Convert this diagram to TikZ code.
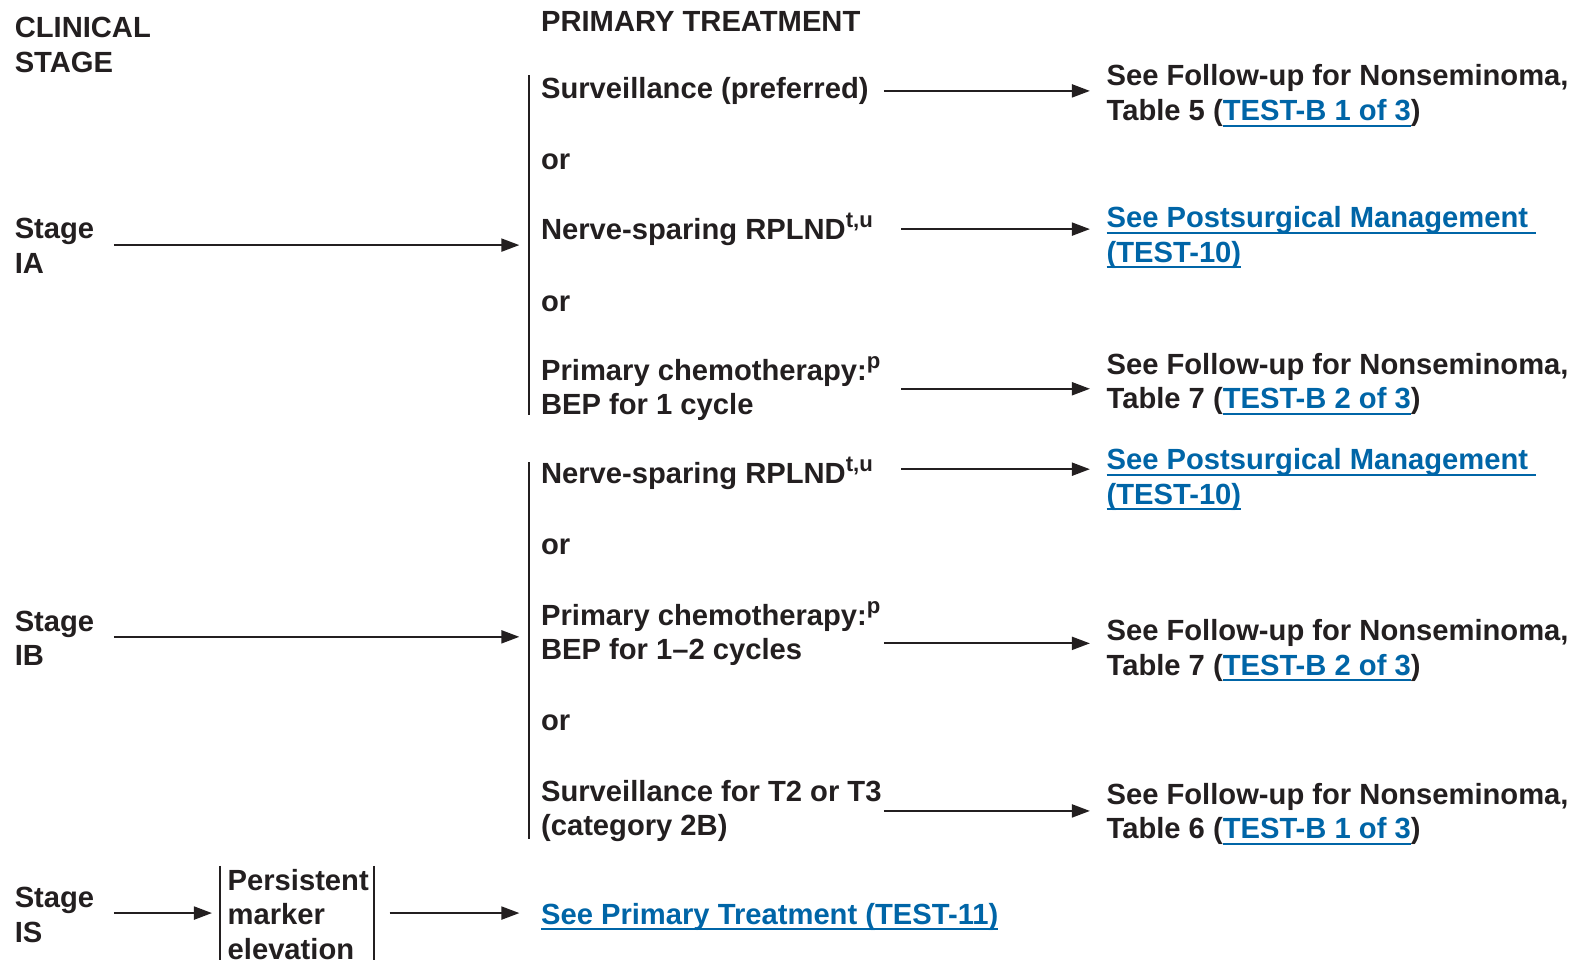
\documentclass[tikz,border=0pt]{standalone}
\usepackage{fontspec}
\setmainfont{Liberation Sans}
\usetikzlibrary{arrows.meta,positioning}
\definecolor{txtgray}{RGB}{35,31,32}
\definecolor{linkblue}{RGB}{0,101,167}
\newsavebox{\lnkbox}
\newcommand{\lnk}[1]{\textcolor{linkblue}{\sbox{\lnkbox}{#1}\rlap{\rule[-1.75pt]{\wd\lnkbox}{0.55pt}}\usebox{\lnkbox}}}
\newcommand{\sups}[1]{\raisebox{0.4em}{\fontsize{6.3}{6.3}\selectfont #1}}

\begin{document}
\begin{tikzpicture}[x=0.10045mm,y=-0.10045mm,
  txt/.style={anchor=base west,inner sep=0pt,align=left,text=txtgray,
    font=\fontsize{8.3}{9.85}\selectfont\bfseries},
  arr/.style={draw=txtgray,line width=0.2mm,-{Triangle[length=1.8mm,width=1.3mm]}},
  bar/.style={draw=txtgray,line width=0.2mm}]
  \useasboundingbox (0,0) rectangle (1568,955);

  % multi-line nodes sit on the baseline of their last line
  \node[txt] (hstage) at (14,72) {CLINICAL\\STAGE};
  \node[txt] (htreat) at (538,31) {PRIMARY TREATMENT};

  % arrow columns
  \coordinate (colA) at (880,0);
  \coordinate (colB) at (897,0);

  % stage IA
  \node[txt] (stIA) at (14,272) {Stage\\IA};
  \node[txt] (survIA) at (538,98) {Surveillance (preferred)};
  \node[txt] (orIA1) at (538,169) {or};
  \node[txt] (rpIA) at (538,238) {Nerve-sparing RPLND\sups{t,u}};
  \node[txt] (orIA2) at (538,310) {or};
  \node[txt] (chIA) at (538,413) {Primary chemotherapy:\sups{p}\\BEP for 1 cycle};

  \node[txt] (fuIA1) at (1101,120) {See Follow-up for Nonseminoma,\\Table 5 (\lnk{TEST-B 1 of 3})};
  \node[txt] (psIA) at (1101,261) {\lnk{See Postsurgical Management~}\\\lnk{(TEST-10)}};
  \node[txt] (fuIA3) at (1101,407) {See Follow-up for Nonseminoma,\\Table 7 (\lnk{TEST-B 2 of 3})};

  \coordinate (barIAt) at (527,75);
  \coordinate (barIAb) at (527,413);
  \coordinate (inIA) at (527,244);
  \draw[bar] (barIAt) -- (barIAb);

  \draw[arr,shorten <=1.9mm,shorten >=1mm] (stIA.east |- inIA) -- (inIA);
  \draw[arr,shorten >=1.6mm] (survIA.east -| colA) -- (survIA.east -| fuIA1.west);
  \draw[arr,shorten >=1.6mm] (rpIA.east -| colB) -- (rpIA.east -| psIA.west);
  \draw[arr,shorten >=1.6mm] (chIA.east -| colB) -- (chIA.east -| fuIA3.west);

  % stage IB
  \node[txt] (stIB) at (14,663) {Stage\\IB};
  \node[txt] (rpIB) at (538,481) {Nerve-sparing RPLND\sups{t,u}};
  \node[txt] (orIB1) at (538,552) {or};
  \node[txt] (chIB) at (538,657) {Primary chemotherapy:\sups{p}\\BEP for 1--2 cycles};
  \node[txt] (orIB2) at (538,727) {or};
  \node[txt] (svIB) at (538,832) {Surveillance for T2 or T3\\(category 2B)};

  \node[txt] (psIB) at (1101,502) {\lnk{See Postsurgical Management~}\\\lnk{(TEST-10)}};
  \node[txt] (fuIB2) at (1101,672) {See Follow-up for Nonseminoma,\\Table 7 (\lnk{TEST-B 2 of 3})};
  \node[txt] (fuIB3) at (1101,835) {See Follow-up for Nonseminoma,\\Table 6 (\lnk{TEST-B 1 of 3})};

  \coordinate (barIBt) at (527,460);
  \coordinate (barIBb) at (527,835);
  \coordinate (inIB) at (527,634);
  \draw[bar] (barIBt) -- (barIBb);

  \draw[arr,shorten <=1.9mm,shorten >=1mm] (stIB.east |- inIB) -- (inIB);
  \draw[arr,shorten >=1.6mm] ([yshift=0.4mm]rpIB.east -| colB) -- ([yshift=0.4mm]rpIB.east -| psIB.west);
  \draw[arr,shorten >=1.6mm] ([yshift=-0.95mm]chIB.east -| colA) -- ([yshift=-0.95mm]chIB.east -| fuIB2.west);
  \draw[arr,shorten >=1.6mm] (svIB.east -| colA) -- (svIB.east -| fuIB3.west);

  % stage IS
  \node[txt] (stIS) at (14,938) {Stage\\IS};
  \node[txt] (pmIS) at (226,955) {Persistent\\marker\\elevation};
  \node[txt] (ptIS) at (538,920) {\lnk{See Primary Treatment (TEST-11)}};

  \coordinate (inIS) at (219,909);
  \coordinate (outIS) at (372,909);
  \draw[bar] (219,862) -- (219,970)
   (372,862) -- (372,970);

  \draw[arr,shorten <=1.9mm,shorten >=0.8mm] (stIS.east |- inIS) -- (inIS);
  \draw[arr,shorten <=1.6mm,shorten >=2.1mm] (outIS) -- (outIS -| ptIS.west);
\end{tikzpicture}
\end{document}
